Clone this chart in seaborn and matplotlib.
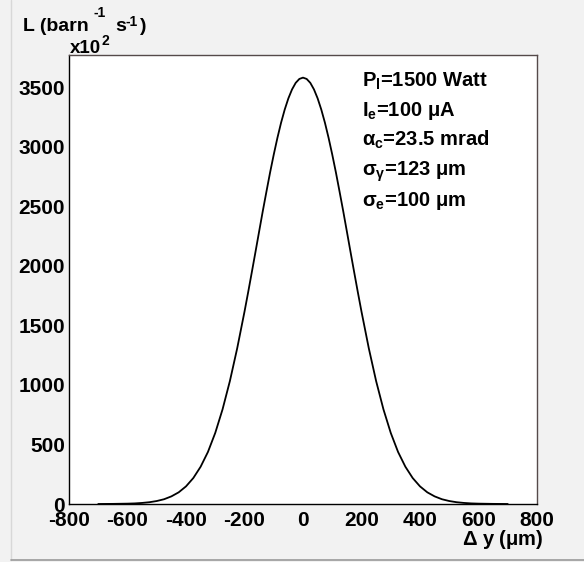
import matplotlib
matplotlib.use("Agg")
import matplotlib.pyplot as plt
from matplotlib.ticker import MultipleLocator
from matplotlib.lines import Line2D
import seaborn as sns
import pandas as pd

# ---- data (units: 10^2 barn^-1 s^-1) ----
dy_um = [-700, -650, -625, -600, -575, -550, -525, -500, -475, -450, -425, -400,
         -375, -350, -325, -300, -275, -250, -225, -200, -187.5, -175, -162.5,
         -150, -137.5, -125, -112.5, -100, -87.5, -75, -62.5, -50, -37.5, -25,
         -12.5, 0, 12.5, 25, 37.5, 50, 62.5, 75, 87.5, 100, 112.5, 125, 137.5,
         150, 162.5, 175, 187.5, 200, 225, 250, 275, 300, 325, 350, 375, 400,
         425, 450, 475, 500, 525, 550, 575, 600, 625, 650, 700]
lumi = [0, 1, 2, 3, 5, 9, 15, 25, 40, 64, 98, 148,
        218, 313, 437, 597, 795, 1032, 1307, 1615, 1778, 1946, 2116,
        2288, 2459, 2623, 2784, 2934, 3074, 3201, 3312, 3406, 3481, 3536,
        3569, 3580, 3569, 3536, 3481, 3406, 3312, 3201, 3074, 2934, 2784, 2623, 2459,
        2288, 2116, 1946, 1778, 1615, 1307, 1032, 795, 597, 437, 313, 218, 148,
        98, 64, 40, 25, 15, 9, 5, 3, 2, 1, 0]

x_ticks = [-800, -600, -400, -200, 0, 200, 400, 600, 800]
y_ticks = [0, 500, 1000, 1500, 2000, 2500, 3000, 3500]

labels = [r"P$_\mathrm{l}$=1500 Watt",
          r"I$_\mathrm{e}$=100 $\mathsf{\mu}$A",
          r"$\mathsf{\alpha}_\mathrm{c}$=23.5 mrad",
          r"$\mathsf{\sigma}_{\mathsf{\gamma}}$=123 $\mathsf{\mu}$m",
          r"$\mathsf{\sigma}_\mathrm{e}$=100 $\mathsf{\mu}$m"]

df = pd.DataFrame({"dy": dy_um, "L": lumi})

sns.set_theme(style="white")
plt.rcParams["font.family"] = ["Liberation Sans", "DejaVu Sans"]
plt.rcParams["font.weight"] = "bold"
plt.rcParams["axes.unicode_minus"] = False
plt.rcParams["mathtext.fontset"] = "custom"
plt.rcParams["mathtext.rm"] = "Liberation Sans:bold"
plt.rcParams["mathtext.it"] = "Liberation Sans:bold"
plt.rcParams["mathtext.bf"] = "Liberation Sans:bold"
plt.rcParams["mathtext.sf"] = "Liberation Sans"

W, H = 584, 562
fig = plt.figure(figsize=(W / 100, H / 100), dpi=100)
fig.patch.set_facecolor("#f2f2f2")

ax = fig.add_axes([69 / W, 1 - 504 / H, (537 - 69) / W, (504 - 55) / H])
ax.set_facecolor("white")

sns.lineplot(data=df, x="dy", y="L", ax=ax, color="black", linewidth=1.3,
             estimator=None, sort=False)

ax.set_xlim(-800, 800)
ax.set_ylim(0, 3770)
ax.set_xticks(x_ticks)
ax.set_yticks(y_ticks)
ax.xaxis.set_minor_locator(MultipleLocator(50))
ax.yaxis.set_minor_locator(MultipleLocator(100))
ax.set_xticklabels([str(v) for v in x_ticks])
ax.set_yticklabels([str(v) for v in y_ticks])
ax.set_xlabel("")
ax.set_ylabel("")

ax.tick_params(axis="both", which="both", direction="in", colors="black",
               width=0.8, labelsize=15)
ax.tick_params(axis="x", which="major", length=8.6, pad=5)
ax.tick_params(axis="x", which="minor", length=4.3)
ax.tick_params(axis="y", which="major", length=10, pad=3)
ax.tick_params(axis="y", which="minor", length=5)
for lab in ax.get_xticklabels() + ax.get_yticklabels():
    lab.set_fontweight("bold")

for s in ["left", "bottom"]:
    ax.spines[s].set_color("black")
    ax.spines[s].set_linewidth(1.0)
for s in ["top", "right"]:
    ax.spines[s].set_color("#554a4a")
    ax.spines[s].set_linewidth(1.0)


def px_text(x, y, s, size, **kw):
    return fig.text(x / W, 1 - y / H, s, fontsize=size, fontweight="bold",
                    va="baseline", color="black", **kw)


# annotation block
bases = [87, 116, 146, 176, 206]
for txt, yb in zip(labels, bases):
    px_text(362, yb, txt, 14.5, ha="left")

# y-axis title (ROOT style, superscripts as raised text)
px_text(23, 31, "L (barn", 14, ha="left")
px_text(93, 17, "-1", 10, ha="left")
px_text(115, 31, "s", 14, ha="left")
px_text(125, 26, "-1", 10, ha="left")
px_text(140, 31, ")", 14, ha="left")
px_text(70, 53, "x10", 13.5, ha="left")
px_text(101, 45, "2", 10, ha="left")

# x-axis title
px_text(543, 545, r"$\mathsf{\Delta}$ y ($\mathsf{\mu}$m)", 14.5, ha="right")

# canvas border
fig.add_artist(Line2D([11 / W, 11 / W], [1 - 560 / H, 1], transform=fig.transFigure,
                      color="#d8d8d8", linewidth=1))
fig.add_artist(Line2D([11 / W, 1], [1 - 560 / H, 1 - 560 / H], transform=fig.transFigure,
                      color="#9a9a9a", linewidth=1.2))

fig.savefig("out.png", dpi=100, facecolor=fig.get_facecolor())
